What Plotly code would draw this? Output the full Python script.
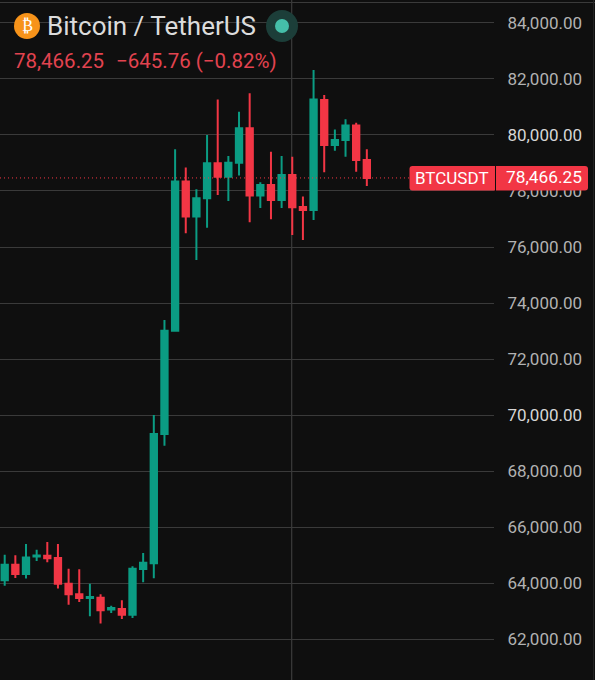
import plotly.graph_objects as go

W, H = 595, 680
BG = "#0f0f0f"
GRID = "#3a3a3a"
UP = "#0b9c83"
DOWN = "#f23645"

open_ = [64095, 64655, 64320, 64950, 64975, 64890, 63975, 63595, 63465, 63475, 63050, 63070,
         62870, 64500, 64705, 69320, 73010, 78335, 77085, 77740, 78990, 78510, 79010, 80240,
         77835, 78215, 77680, 78570, 77430, 77320, 81250, 79645, 79820, 80335, 79110]
high = [65010, 64990, 65390, 65190, 65465, 65390, 64510, 64490, 63975, 63595, 63190, 63380,
        64595, 65070, 70000, 73390, 79490, 78835, 78060, 80000, 81270, 79250, 80830, 81490,
        78310, 79405, 79250, 79225, 77800, 82320, 81430, 80200, 80560, 80440, 79490]
low = [63905, 64180, 64165, 64785, 64740, 63800, 63225, 63320, 62810, 62550, 62930, 62715,
       62750, 64025, 64170, 68905, 73000, 76490, 75540, 76690, 77860, 77645, 78550, 76880,
       77395, 76990, 77395, 76430, 76250, 76965, 78670, 79440, 79225, 78690, 78180]
close = [64655, 64320, 64915, 64985, 64880, 63975, 63595, 63465, 63500, 63025, 63110, 62870,
         64510, 64725, 69320, 73010, 78335, 77085, 77740, 78990, 78510, 79010, 80240, 77835,
         78215, 77680, 78570, 77415, 77320, 81270, 79645, 79820, 80335, 79110, 78466.25]
bars = list(range(len(open_)))
ticks = list(range(62000, 84001, 2000))
bright_ticks = [70000, 80000]
last_price = 78466.25
cross_bar = 26.95
x_range = [-0.441, 45.94]
y_range = [60536, 84821]

tick_text = [
    f'<span style="color:#d6d6d6">{t:,.2f}</span>' if t in bright_ticks else f"{t:,.2f}"
    for t in ticks
]

fig = go.Figure(go.Candlestick(
    x=bars, open=open_, high=high, low=low, close=close,
    increasing=dict(line=dict(color=UP, width=2), fillcolor=UP),
    decreasing=dict(line=dict(color=DOWN, width=2), fillcolor=DOWN),
    whiskerwidth=0, hoverinfo="skip", showlegend=False,
))


def px(x):
    return x / W


def py(y):
    return 1 - y / H


def round_rect(x0, y0, x1, y1, rl, rr):
    X = lambda v: f"{px(v):.5f}"
    Y = lambda v: f"{py(v):.5f}"
    return (f"M {X(x0 + rl)} {Y(y0)} L {X(x1 - rr)} {Y(y0)} Q {X(x1)} {Y(y0)} {X(x1)} {Y(y0 + rr)} "
            f"L {X(x1)} {Y(y1 - rr)} Q {X(x1)} {Y(y1)} {X(x1 - rr)} {Y(y1)} L {X(x0 + rl)} {Y(y1)} "
            f"Q {X(x0)} {Y(y1)} {X(x0)} {Y(y1 - rl)} L {X(x0)} {Y(y0 + rl)} Q {X(x0)} {Y(y0)} {X(x0 + rl)} {Y(y0)} Z")


shapes = [
    dict(type="line", xref="x", yref="paper", x0=cross_bar, x1=cross_bar, y0=0, y1=1,
         line=dict(color="#444444", width=1), layer="below"),
    dict(type="line", xref="paper", yref="paper", x0=0, x1=1, y0=py(2.5), y1=py(2.5),
         line=dict(color=GRID, width=1), layer="below"),
    dict(type="line", xref="paper", yref="paper", x0=px(593.5), x1=px(593.5), y0=0, y1=1,
         line=dict(color="#222222", width=1), layer="below"),
    dict(type="line", xref="x", yref="y", x0=x_range[0], x1=38.2, y0=last_price, y1=last_price,
         line=dict(color=DOWN, width=1, dash="1px 3px"), layer="above"),
    # legend icons
    dict(type="circle", xref="paper", yref="paper", x0=px(14), x1=px(40), y0=py(39), y1=py(13),
         fillcolor="#f7931a", line_width=0),
    dict(type="circle", xref="paper", yref="paper", x0=px(266), x1=px(298), y0=py(42), y1=py(10),
         fillcolor="#1c3e39", line_width=0),
    dict(type="circle", xref="paper", yref="paper", x0=px(275), x1=px(289), y0=py(33), y1=py(19),
         fillcolor="#45bfa9", line_width=0),
    # price tags
    dict(type="path", xref="paper", yref="paper", path=round_rect(409.5, 166, 495, 190.5, 3, 0),
         fillcolor=DOWN, line_width=0, layer="above"),
    dict(type="path", xref="paper", yref="paper", path=round_rect(496, 166, 588, 190.5, 0, 3),
         fillcolor=DOWN, line_width=0, layer="above"),
]


def label(x, y, text, size, color, anchor="left", family="Roboto"):
    return dict(xref="paper", yref="paper", x=px(x), y=py(y), text=text, showarrow=False,
                xanchor=anchor, yanchor="middle", align=anchor, borderpad=0,
                font=dict(family=family, size=size, color=color))


annotations = [
    label(27, 26, "₿", 16, "#ffffff", "center", "DejaVu Sans"),
    label(46, 26, "Bitcoin / TetherUS", 26, "#dcdcdc"),
    label(13, 61, "78,466.25", 20.5, "#e2434f"),
    label(115, 61, "−645.76 (−0.82%)", 20.5, "#e2434f"),
    label(452, 178.5, "BTCUSDT", 17, "#ffffff", "center"),
    label(543.5, 177.5, "78,466.25", 17.3, "#ffffff", "center"),
]

fig.update_layout(
    width=W, height=H, autosize=False,
    paper_bgcolor=BG, plot_bgcolor=BG,
    margin=dict(l=0, r=0, t=0, b=0),
    boxgap=0.15,
    shapes=shapes, annotations=annotations,
    font=dict(family="Roboto", color="#b2b2b2"),
    xaxis=dict(domain=[0, 494 / W], range=x_range, showgrid=False, zeroline=False,
               showticklabels=False, ticks="", rangeslider=dict(visible=False), fixedrange=True),
    yaxis=dict(range=y_range, side="right", tickvals=ticks, ticktext=tick_text,
               showgrid=True, gridcolor=GRID, gridwidth=1, zeroline=False,
               ticks="outside", ticklen=9, tickcolor="rgba(0,0,0,0)",
               tickfont=dict(family="Roboto", size=17, color="#b2b2b2"), fixedrange=True),
)

fig.write_html("out.html", config=dict(displayModeBar=False),
               post_script="document.body.style.margin='0';document.body.style.background='#0f0f0f';")
